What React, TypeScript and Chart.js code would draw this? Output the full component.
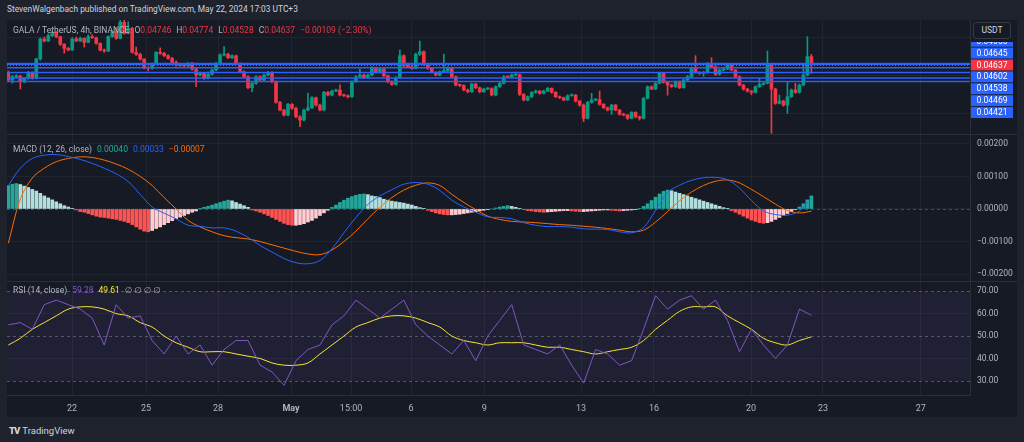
import React, { useEffect, useRef } from 'react';
import { Chart, registerables } from 'chart.js';

Chart.register(...registerables);

// ---------------- data ----------------
// prices are in units of 0.00001 USDT, MACD values in units of 0.00001
const firstOpen = 4528;
const closes = [
  4441, 4484, 4493, 4419, 4463, 4541, 4463, 4714, 4974, 4948,
  5017, 5061, 5004, 4905, 4853, 4831, 4974, 4948, 4983, 4931,
  5004, 4991, 4918, 4831, 4818, 5004, 5069, 4983, 5191, 5048,
  5113, 4801, 4775, 4714, 4601, 4593, 4645, 4801, 4788, 4757,
  4723, 4671, 4636, 4632, 4627, 4658, 4584, 4506, 4528, 4463,
  4515, 4571, 4658, 4766, 4775, 4731, 4757, 4658, 4549, 4484,
  4341, 4398, 4484, 4441, 4506, 4541, 4419, 4151, 4051, 3986,
  4125, 4073, 3964, 3921, 4051, 4081, 4211, 4116, 4051, 4281,
  4246, 4298, 4311, 4246, 4237, 4224, 4419, 4484, 4506, 4471,
  4506, 4601, 4541, 4584, 4497, 4419, 4385, 4471, 4757, 4627,
  4614, 4593, 4775, 4809, 4645, 4593, 4541, 4506, 4549, 4558,
  4601, 4484, 4376, 4370, 4311, 4289, 4389, 4341, 4289, 4324,
  4330, 4246, 4354, 4398, 4484, 4480, 4506, 4510, 4255, 4181,
  4224, 4281, 4298, 4268, 4298, 4333, 4281, 4224, 4211, 4181,
  4237, 4246, 4168, 4116, 3943, 4151, 4181, 4185, 4125, 4081,
  4051, 4116, 4051, 3995, 3986, 3943, 4021, 3964, 3943, 4203,
  4354, 4324, 4398, 4528, 4411, 4376, 4354, 4419, 4341, 4441,
  4484, 4593, 4541, 4528, 4541, 4658, 4614, 4515, 4571, 4584,
  4645, 4571, 4484, 4376, 4324, 4298, 4281, 4354, 4385, 4398,
  4636, 4324, 4138, 4168, 4116, 4224, 4311, 4281, 4376, 4506,
  4746, 4637,
];
const highs = [
  4560, 4500, 4510, 4505, 4475, 4555, 4550, 4725, 4990, 5000,
  5040, 5075, 5070, 5010, 4915, 4865, 4990, 5000, 5000, 4990,
  5030, 5030, 5000, 4925, 4845, 5015, 5080, 5120, 5230, 5220,
  5200, 5125, 4870, 4790, 4720, 4615, 4660, 4810, 4860, 4800,
  4770, 4735, 4690, 4650, 4645, 4670, 4670, 4600, 4545, 4540,
  4530, 4585, 4670, 4780, 4875, 4790, 4770, 4765, 4665, 4560,
  4495, 4410, 4500, 4495, 4520, 4555, 4550, 4430, 4165, 4060,
  4140, 4135, 4090, 3980, 4065, 4270, 4225, 4220, 4130, 4295,
  4295, 4310, 4325, 4380, 4260, 4250, 4430, 4500, 4585, 4520,
  4520, 4615, 4610, 4600, 4595, 4505, 4430, 4485, 4830, 4770,
  4640, 4630, 4790, 4948, 4820, 4655, 4605, 4550, 4560, 4775,
  4615, 4610, 4495, 4390, 4380, 4325, 4400, 4400, 4350, 4335,
  4345, 4340, 4365, 4410, 4500, 4495, 4520, 4525, 4520, 4265,
  4235, 4290, 4310, 4305, 4310, 4345, 4340, 4290, 4235, 4220,
  4250, 4260, 4255, 4175, 4130, 4165, 4268, 4200, 4298, 4135,
  4090, 4125, 4125, 4060, 4010, 3995, 4030, 4030, 3975, 4215,
  4365, 4365, 4410, 4540, 4535, 4420, 4390, 4430, 4430, 4455,
  4500, 4610, 4758, 4550, 4555, 4670, 4731, 4625, 4585, 4600,
  4660, 4655, 4580, 4495, 4385, 4335, 4305, 4365, 4463, 4410,
  4818, 4658, 4335, 4246, 4180, 4420, 4325, 4398, 4390, 4636,
  5004, 4774,
];
const lows = [
  4420, 4400, 4470, 4325, 4405, 4450, 4450, 4455, 4700, 4935,
  4940, 5005, 4990, 4890, 4790, 4820, 4825, 4940, 4940, 4870,
  4925, 4980, 4905, 4820, 4800, 4810, 4995, 4970, 4975, 5035,
  5040, 4790, 4760, 4700, 4585, 4560, 4580, 4640, 4775, 4745,
  4710, 4660, 4620, 4620, 4610, 4615, 4570, 4355, 4495, 4450,
  4455, 4505, 4560, 4650, 4755, 4720, 4720, 4645, 4535, 4470,
  4330, 4290, 4385, 4430, 4430, 4495, 4405, 4140, 4040, 3975,
  3975, 4060, 3950, 3835, 3910, 4040, 4070, 4100, 4040, 4040,
  4235, 4235, 4290, 4235, 4225, 4210, 4215, 4410, 4475, 4460,
  4460, 4495, 4530, 4530, 4485, 4405, 4370, 4375, 4460, 4615,
  4600, 4580, 4585, 4760, 4630, 4580, 4530, 4495, 4495, 4540,
  4545, 4470, 4365, 4355, 4300, 4275, 4280, 4330, 4275, 4280,
  4315, 4235, 4235, 4345, 4390, 4470, 4470, 4495, 4240, 4170,
  4170, 4215, 4270, 4255, 4260, 4290, 4270, 4215, 4200, 4170,
  4175, 4230, 4155, 4100, 3900, 3935, 4140, 4170, 4115, 4070,
  4040, 3995, 4040, 3985, 3975, 3930, 3935, 3950, 3920, 3935,
  4195, 4315, 4315, 4390, 4400, 4245, 4345, 4345, 4330, 4335,
  4430, 4475, 4530, 4515, 4490, 4530, 4600, 4500, 4505, 4560,
  4575, 4560, 4470, 4365, 4310, 4285, 4250, 4270, 4345, 4375,
  4390, 3748, 4125, 4130, 4100, 4008, 4215, 4270, 4270, 4365,
  4495, 4528,
];
const supportLevels = [4656, 4645, 4602, 4538, 4469, 4421];
const lastPrice = 4637;

const macdHist = [
  72, 76, 78, 75, 70, 66, 60, 55, 48, 40, 34, 28, 22, 16, 10, 6,
  1, -3, -8,
  -10, -14, -18, -22, -25, -26, -28, -30, -32, -35, -38, -42, -48, -55, -62, -68, -70,
  -66, -60, -55, -48, -42, -36, -30, -25, -20, -15, -10, -6,
  2, 5, 8, 12, 16, 20, 24, 27, 25, 20, 15, 10, 5,
  -3, -6, -10, -15, -20, -26,
  -32, -38, -44, -48, -50, -50, -48, -45, -40, -35, -28, -20, -12, -4,
  5, 12, 20, 27, 33, 38, 42, 45, 46, 44, 40, 38, 35, 30, 27,
  24, 22, 20, 18, 15, 12, 8, 4, 1,
  -4, -8, -12, -15, -17, -18, -18, -17, -16, -14, -12, -10, -8,
  -6, -4, -2, 0, 3, 6, 8, 10,
  8, 5, 2, -2, -5,
  -6, -8, -9, -10, -9, -8, -7, -6, -5, -5, -6, -7, -8, -8, -7, -6, -5, -4, -3, -3, -4, -5, -6, -5, -4, -3, -2,
  2, 8, 16, 26, 36, 46, 54, 58, 56, 52, 48, 44, 40, 36, 32,
  28, 24, 20, 16, 12, 8, 4, 1,
  -5, -10, -16, -22, -28, -34, -38, -42, -44, -42, -38, -32, -26, -20, -14,
  -8, -2, 6, 16, 28, 40,
];

// indicator lines are sampled every `lineStep` candles
const lineStep = 3;
const macdLine = [
  72, 125, 155, 165, 167, 161, 152, 140, 125, 108,
  84, 45, 6, -13, -30, -50, -53, -58, -58, -68,
  -87, -112, -132, -152, -165, -168, -158, -122, -73, -26,
  14, 40, 59, 76, 81, 76, 57, 27, 6, -10,
  -24, -26, -30, -42, -50, -54, -54, -56, -61, -62,
  -63, -70, -73, -57, -4, 50, 73, 88, 96, 97,
  90, 64, 26, -6, -17, -19, -6, 33,
];
const signalLine = [
  -105, 30, 95, 125, 145, 155, 160, 158, 150, 138,
  122, 100, 72, 35, 0, -35, -55, -70, -82, -88,
  -92, -100, -110, -120, -130, -138, -140, -126, -100, -68,
  -30, 5, 35, 58, 73, 80, 72, 45, 20, -2,
  -22, -32, -38, -40, -42, -45, -48, -50, -53, -56,
  -60, -65, -70, -65, -40, -8, 25, 52, 72, 85,
  89, 80, 60, 38, 15, -5, -12, -7,
];
const rsiLine = [
  55, 56, 53, 64, 66, 64, 62, 58, 46, 64,
  58, 59, 48, 42, 50, 42, 46, 37, 44, 48,
  48, 37, 34, 28, 39, 44, 46, 55, 59, 66,
  62, 58, 62, 66, 55, 50, 46, 42, 48, 39,
  50, 57, 64, 46, 44, 42, 46, 37, 29, 44,
  42, 37, 39, 53, 68, 62, 66, 68, 62, 66,
  57, 43, 53, 46, 40, 46, 62, 59.28,
];
const rsiMa = [
  46, 49, 53, 56, 59, 62, 63, 63, 62, 60,
  59, 56, 54, 50, 47, 45, 43, 43, 43, 42,
  41, 40, 38, 37, 37, 38, 42, 46, 50, 54,
  56, 58, 59, 59, 58, 56, 54, 50, 48, 47,
  46, 47, 47, 47, 46, 45, 45, 44, 43, 42,
  43, 44, 45, 48, 53, 57, 61, 63, 63, 63,
  59, 56, 53, 49, 47, 46, 48, 49.61,
];

const timeTickPos = [15.94, 34.47, 52.49, 70.76, 85.78, 100.8, 119.1, 143.35, 161.6, 185.9, 203.9, 228.4];
const timeTickLabels = ['22', '25', '28', 'May', '15:00', '6', '9', '13', '16', '20', '23', '27'];
const priceGridTicks = [4000, 4500, 5000];
const macdTicks = [-200, -100, 0, 100, 200];
const rsiTicks = [30, 40, 50, 60, 70];
const rsiBands = [70, 50, 30];

// ---------------- styling ----------------
const FONT = 'Roboto, "Noto Sans", "DejaVu Sans", sans-serif';
const OUTER = '#1e222d';
const BG = '#161a25';
const GRID = 'rgba(42,46,57,0.55)';
const BORDER = '#2a2e39';
const TEXT = '#b2b5be';
const UP = '#089981';
const DOWN = '#f23645';
const BLUE = '#2962ff';

const X_MIN = -0.33;
const X_MAX = 240.7;

const fmt5 = (v: number) => (v < 0 ? '\u2212' : '') + (Math.abs(v) / 1e5).toFixed(5);

function xScale(showLabels: boolean): any {
  return {
    type: 'linear',
    min: X_MIN,
    max: X_MAX,
    offset: false,
    afterBuildTicks: (s: any) => {
      s.ticks = timeTickPos.map((v) => ({ value: v }));
    },
    afterFit: (s: any) => {
      s.height = showLabels ? 22 : 0;
    },
    ticks: {
      display: showLabels,
      autoSkip: false,
      maxRotation: 0,
      padding: 8,
      color: TEXT,
      font: (c: any) => ({ family: FONT, size: 9, weight: timeTickLabels[c.index] === 'May' ? 'bold' : 'normal' }),
      callback: (_v: any, i: number) => timeTickLabels[i],
    },
    grid: { color: GRID, drawTicks: false, offset: false },
    border: { display: showLabels, color: BORDER },
  };
}

function yScale(min: number, max: number, ticks: number[], showLabels: boolean, fmt: (v: number) => string, gridSkip: number[] = []): any {
  return {
    position: 'right',
    min,
    max,
    afterBuildTicks: (s: any) => {
      s.ticks = ticks.map((v) => ({ value: v }));
    },
    afterFit: (s: any) => {
      s.width = 47;
      s.paddingTop = 0;
      s.paddingBottom = 0;
    },
    ticks: {
      display: showLabels,
      color: TEXT,
      padding: 7,
      font: { family: FONT, size: 8.5 },
      callback: (v: any) => fmt(Number(v)),
    },
    grid: {
      color: (c: any) => (c.tick && gridSkip.includes(c.tick.value) ? 'rgba(0,0,0,0)' : GRID),
      drawTicks: false,
    },
    border: { color: BORDER },
  };
}

function baseOptions(y: any, showTime: boolean): any {
  return {
    responsive: false,
    animation: false,
    events: [],
    layout: { padding: 0 },
    plugins: { legend: { display: false }, tooltip: { enabled: false } },
    scales: { x: xScale(showTime), y },
  };
}

const pricePlugin = {
  id: 'priceLevels',
  afterDatasetsDraw(chart: any) {
    const { ctx, chartArea: a, scales } = chart;
    const y = scales.y;
    ctx.save();
    ctx.beginPath();
    ctx.rect(a.left, a.top, a.right - a.left, a.bottom - a.top);
    ctx.clip();
    ctx.strokeStyle = BLUE;
    ctx.lineWidth = 1.5;
    supportLevels.forEach((l) => {
      const py = y.getPixelForValue(l);
      ctx.beginPath();
      ctx.moveTo(a.left, py);
      ctx.lineTo(a.right, py);
      ctx.stroke();
    });
    ctx.strokeStyle = DOWN;
    ctx.lineWidth = 1;
    ctx.setLineDash([1, 2]);
    const pp = Math.round(y.getPixelForValue(lastPrice)) + 0.5;
    ctx.beginPath();
    ctx.moveTo(a.left, pp);
    ctx.lineTo(a.right, pp);
    ctx.stroke();
    ctx.restore();
  },
  afterDraw(chart: any) {
    const { ctx, chartArea: a, scales } = chart;
    const y = scales.y;
    const items = [...supportLevels.map((v) => ({ v, c: BLUE, last: false })), { v: lastPrice, c: DOWN, last: true }].sort(
      (p, q) => q.v - p.v
    );
    const ai = items.findIndex((it) => it.last);
    const H = 11.9;
    const ys = items.map((it) => y.getPixelForValue(it.v));
    for (let i = ai - 1; i >= 0; i--) ys[i] = Math.min(ys[i], ys[i + 1] - H);
    for (let i = ai + 1; i < items.length; i++) ys[i] = Math.max(ys[i], ys[i - 1] + H);
    ctx.save();
    // labels are hidden beneath the currency button
    ctx.beginPath();
    ctx.rect(a.right + 1, 22, 46, a.bottom - 22);
    ctx.clip();
    ctx.font = `8.5px ${FONT}`;
    ctx.textAlign = 'center';
    ctx.textBaseline = 'middle';
    items.forEach((it, i) => {
      ctx.fillStyle = it.c;
      ctx.fillRect(a.right + 1, ys[i] - 5.5, 42, 11);
      ctx.fillStyle = '#ffffff';
      ctx.fillText(fmt5(it.v), a.right + 22, ys[i] + 0.5);
    });
    ctx.restore();
  },
};

const macdPlugin = {
  id: 'macdZero',
  beforeDatasetsDraw(chart: any) {
    const { ctx, chartArea: a, scales } = chart;
    const py = Math.round(scales.y.getPixelForValue(0)) + 0.5;
    ctx.save();
    ctx.strokeStyle = 'rgba(120,123,134,0.5)';
    ctx.setLineDash([3, 3]);
    ctx.lineWidth = 1;
    ctx.beginPath();
    ctx.moveTo(a.left, py);
    ctx.lineTo(a.right, py);
    ctx.stroke();
    ctx.restore();
  },
};

const rsiPlugin = {
  id: 'rsiBands',
  beforeDatasetsDraw(chart: any) {
    const { ctx, chartArea: a, scales } = chart;
    const y = scales.y;
    const top = y.getPixelForValue(rsiBands[0]);
    const bot = y.getPixelForValue(rsiBands[rsiBands.length - 1]);
    ctx.save();
    ctx.fillStyle = 'rgba(126,87,194,0.1)';
    ctx.fillRect(a.left, top, a.right - a.left, bot - top);
    ctx.strokeStyle = 'rgba(120,123,134,0.6)';
    ctx.setLineDash([3, 3]);
    ctx.lineWidth = 1;
    rsiBands.forEach((b) => {
      const py = Math.round(y.getPixelForValue(b)) + 0.5;
      ctx.beginPath();
      ctx.moveTo(a.left, py);
      ctx.lineTo(a.right, py);
      ctx.stroke();
    });
    ctx.restore();
  },
};

function priceConfig(): any {
  const n = closes.length;
  const opens = [firstOpen, ...closes.slice(0, n - 1)];
  const colors = closes.map((c, i) => (c >= opens[i] ? UP : DOWN));
  return {
    type: 'bar',
    data: {
      datasets: [
        {
          data: closes.map((_c, i) => ({ x: i, y: [lows[i], highs[i]] })),
          backgroundColor: colors,
          barThickness: 1,
          grouped: false,
          borderWidth: 0,
        },
        {
          data: closes.map((c, i) => ({ x: i, y: [opens[i], c] })),
          backgroundColor: colors,
          barThickness: 3,
          minBarLength: 1,
          grouped: false,
          borderWidth: 0,
        },
      ],
    },
    options: baseOptions(yScale(3740, 5221, priceGridTicks, false, fmt5), false),
    plugins: [pricePlugin],
  };
}

function macdConfig(): any {
  const histColors = macdHist.map((v, i) => {
    const prev = i > 0 ? macdHist[i - 1] : v;
    if (v >= 0) return v >= prev ? '#26a69a' : '#b2dfdb';
    return v < prev ? '#ff5252' : '#ffcdd2';
  });
  return {
    type: 'bar',
    data: {
      datasets: [
        {
          type: 'bar',
          data: macdHist.map((v, i) => ({ x: i, y: v })),
          backgroundColor: histColors,
          barThickness: 3,
          grouped: false,
          borderWidth: 0,
          order: 3,
        },
        {
          type: 'line',
          data: macdLine.map((v, k) => ({ x: k * lineStep, y: v })),
          borderColor: BLUE,
          borderWidth: 1,
          pointRadius: 0,
          tension: 0.35,
          order: 1,
        },
        {
          type: 'line',
          data: signalLine.map((v, k) => ({ x: k * lineStep, y: v })),
          borderColor: '#ff6d00',
          borderWidth: 1,
          pointRadius: 0,
          tension: 0.35,
          order: 2,
        },
      ],
    },
    options: baseOptions(yScale(-221, 227, macdTicks, true, fmt5), false),
    plugins: [macdPlugin],
  };
}

function rsiConfig(): any {
  return {
    type: 'line',
    data: {
      datasets: [
        {
          data: rsiLine.map((v, k) => ({ x: k * lineStep, y: v })),
          borderColor: '#7e57c2',
          borderWidth: 1,
          pointRadius: 0,
          tension: 0,
        },
        {
          data: rsiMa.map((v, k) => ({ x: k * lineStep, y: v })),
          borderColor: '#f7e52f',
          borderWidth: 1,
          pointRadius: 0,
          tension: 0.35,
        },
      ],
    },
    options: baseOptions(yScale(23.7, 74.1, rsiTicks, true, (v) => v.toFixed(2), rsiBands), true),
    plugins: [rsiPlugin],
  };
}

const txt: React.CSSProperties = { fontFamily: FONT, fontSize: 8.5, lineHeight: '11px', whiteSpace: 'nowrap', position: 'absolute' };

export default function App() {
  const priceRef = useRef<HTMLCanvasElement>(null);
  const macdRef = useRef<HTMLCanvasElement>(null);
  const rsiRef = useRef<HTMLCanvasElement>(null);

  useEffect(() => {
    const charts = [
      new Chart(priceRef.current as HTMLCanvasElement, priceConfig()),
      new Chart(macdRef.current as HTMLCanvasElement, macdConfig()),
      new Chart(rsiRef.current as HTMLCanvasElement, rsiConfig()),
    ];
    return () => charts.forEach((c) => c.destroy());
  }, []);

  const gap = { marginLeft: 5 };
  return (
    <div style={{ position: 'absolute', left: 0, top: 0, width: 1024, height: 442, background: OUTER, overflow: 'hidden' }}>
      <div style={{ ...txt, left: 7, top: 4, fontSize: 8.4, color: '#d1d4dc' }}>
        StevenWalgenbach published on TradingView.com, May 22, 2024 17:03 UTC+3
      </div>
      <div style={{ position: 'absolute', left: 7, top: 20, width: 1010, height: 397, background: BG }}>
        <canvas ref={priceRef} width={1010} height={114} style={{ position: 'absolute', left: 0, top: 0 }} />
        <div style={{ position: 'absolute', left: 0, top: 114, width: 1010, height: 1, background: BORDER }} />
        <canvas ref={macdRef} width={1010} height={146} style={{ position: 'absolute', left: 0, top: 115 }} />
        <div style={{ position: 'absolute', left: 0, top: 261, width: 1010, height: 1, background: BORDER }} />
        <canvas ref={rsiRef} width={1010} height={135} style={{ position: 'absolute', left: 0, top: 262 }} />

        <div style={{ ...txt, left: 6, top: 5, color: TEXT }}>
          GALA / TetherUS, 4h, BINANCE
          <span style={gap}>O</span>
          <span style={{ color: DOWN }}>0.04746</span>
          <span style={gap}>H</span>
          <span style={{ color: DOWN }}>0.04774</span>
          <span style={gap}>L</span>
          <span style={{ color: DOWN }}>0.04528</span>
          <span style={gap}>C</span>
          <span style={{ color: DOWN }}>0.04637</span>
          <span style={{ ...gap, color: DOWN }}>{'\u22120.00109 (\u22122.30%)'}</span>
        </div>
        <div
          style={{
            ...txt,
            left: 966,
            top: 2,
            width: 38,
            height: 17,
            lineHeight: '15px',
            textAlign: 'center',
            color: '#d1d4dc',
            background: '#161a25',
            border: '1px solid #363a45',
            borderRadius: 3,
            boxSizing: 'border-box',
          }}
        >
          USDT
        </div>

        <div style={{ ...txt, left: 6, top: 124, color: TEXT }}>
          MACD (12, 26, close)
          <span style={{ ...gap, color: '#22ab94' }}>0.00040</span>
          <span style={{ ...gap, color: BLUE }}>0.00033</span>
          <span style={{ ...gap, color: '#ff6d00' }}>{'\u22120.00007'}</span>
        </div>

        <div style={{ ...txt, left: 6, top: 265, color: TEXT }}>
          RSI (14, close)
          <span style={{ ...gap, color: '#7e57c2' }}>59.28</span>
          <span style={{ ...gap, color: '#f7e52f' }}>49.61</span>
          <span style={gap}>{'\u2205 \u2205 \u2205 \u2205'}</span>
        </div>
      </div>
      <div style={{ ...txt, left: 9, top: 425, fontSize: 9.5, color: '#d1d4dc' }}>
        <span style={{ fontWeight: 900, letterSpacing: -1, marginRight: 3 }}>TV</span>TradingView
      </div>
    </div>
  );
}
